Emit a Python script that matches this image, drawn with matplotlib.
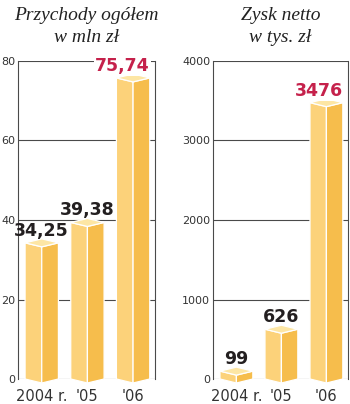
import matplotlib
matplotlib.use("Agg")
import matplotlib.pyplot as plt
from matplotlib.patches import Polygon

years = ["2004 r.", "'05", "'06"]
revenue = [34.25, 39.38, 75.74]
profit = [99, 626, 3476]
revenue_labels = ["34,25", "39,38", "75,74"]
profit_labels = ["99", "626", "3476"]
titles = [("Przychody ogółem", "w mln zł"), ("Zysk netto", "w tys. zł")]
yticks_rev = [0, 20, 40, 60, 80]
yticks_prof = [0, 1000, 2000, 3000, 4000]

C_LEFT = "#FCD27A"
C_RIGHT = "#F6BD4C"
C_TOP = "#FDE6A4"
C_DARK = "#231F20"
C_RED = "#C5214B"
C_GRID = "#4a4a4a"

W, H = 350, 404
fig = plt.figure(figsize=(W / 100, H / 100), dpi=100)

ax_bottom = (404 - 379) / H
ax_height = (379 - 61) / H
axes_specs = [
    (18 / W, 137 / W, revenue, revenue_labels, yticks_rev, titles[0]),
    (213 / W, 135 / W, profit, profit_labels, yticks_prof, titles[1]),
]

half_w = 0.365
for left, width, vals, labels, yticks, (t1, t2) in axes_specs:
    ax = fig.add_axes([left, ax_bottom, width, ax_height])
    ymax = yticks[-1]
    ax.set_xlim(-0.52, 2.48)
    ax.set_ylim(0, ymax)
    px_per_unit = ax_height * H / ymax
    d = 4.0 / px_per_unit
    for s in ["top", "bottom"]:
        ax.spines[s].set_visible(False)
    for s in ["left", "right"]:
        ax.spines[s].set_color(C_GRID)
        ax.spines[s].set_linewidth(0.8)
    for yt in yticks:
        ax.axhline(yt, color=C_GRID, lw=0.8, zorder=1)
    ax.set_yticks(yticks)
    ax.set_yticklabels([str(v) for v in yticks], fontsize=8, color="#333333")
    ax.tick_params(axis="y", length=0, pad=2)
    ax.set_xticks(range(len(years)))
    ax.set_xticklabels(years, fontsize=10.5, color="#333333")
    ax.tick_params(axis="x", length=0, pad=7)
    for i, v in enumerate(vals):
        c = i
        l, r = c - half_w, c + half_w
        faces = [
            ([(l, 0), (c, -d), (c, v - d), (l, v)], C_LEFT),
            ([(c, -d), (r, 0), (r, v), (c, v - d)], C_RIGHT),
            ([(l, v), (c, v - d), (r, v), (c, v + d)], C_TOP),
        ]
        for pts, col in faces:
            ax.add_patch(Polygon(pts, closed=True, facecolor=col, edgecolor="white",
                                 lw=0.9, zorder=2, clip_on=False))
        last = i == len(vals) - 1
        ax.text(r if last else c, v + d + 3 / px_per_unit, labels[i],
                ha="right" if last else "center", va="baseline",
                fontsize=12.5, fontweight="bold",
                color=C_RED if last else C_DARK, zorder=4,
                bbox=dict(facecolor="white", edgecolor="none", pad=1.0) if last else None)
    cx = left + width * 0.5
    fig.text(cx, 1 - 15 / H, t1, ha="center", va="center", fontsize=14,
             family="Liberation Serif", style="italic", color="#222222")
    fig.text(cx, 1 - 38 / H, t2, ha="center", va="center", fontsize=14,
             family="Liberation Serif", style="italic", color="#222222")

fig.savefig("out.png", dpi=100)
